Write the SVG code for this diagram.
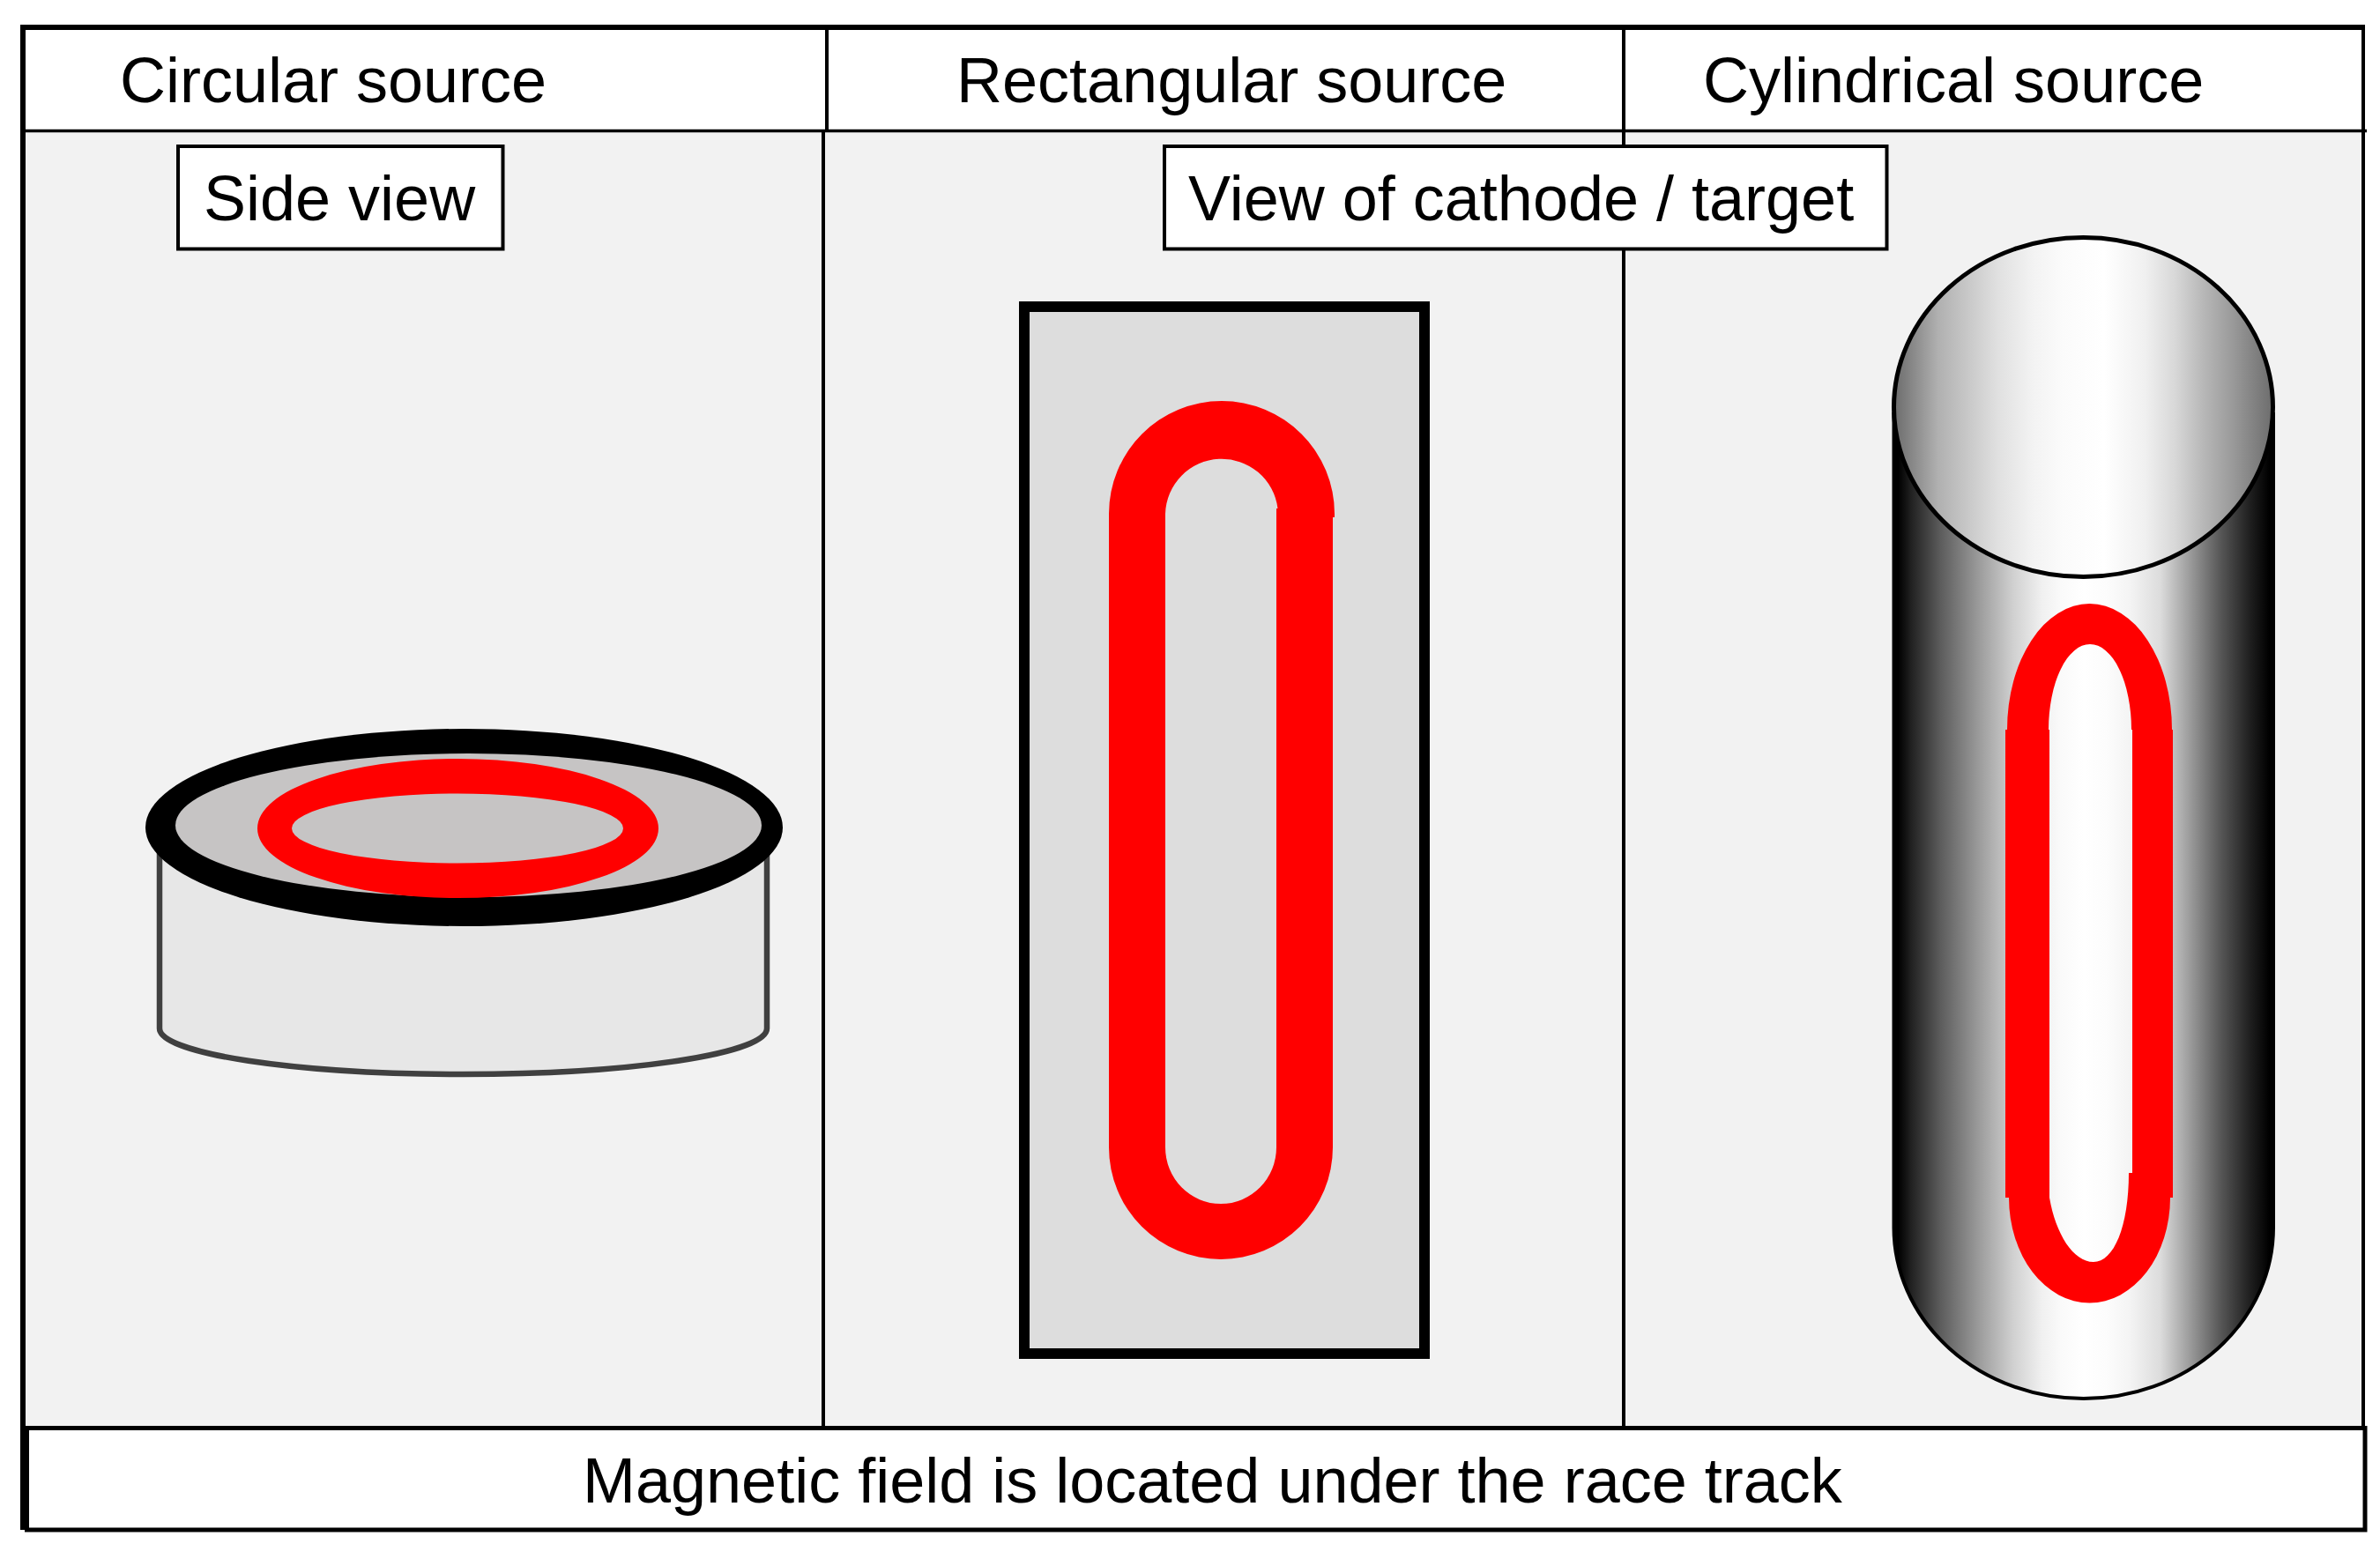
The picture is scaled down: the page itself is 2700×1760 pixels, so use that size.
<svg xmlns="http://www.w3.org/2000/svg" width="2700" height="1760" viewBox="0 0 2700 1760">
<defs>
<style>
text{font-family:"Liberation Sans",Arial,sans-serif;font-size:72px;fill:#000}
.lbl{fill:#fff;stroke:#000;stroke-width:4}
.ln{stroke:#000;fill:none}
.red{fill:#f00;fill-rule:evenodd}
</style>
<linearGradient id="gBody" x1="2147" x2="2581" y1="0" y2="0" gradientUnits="userSpaceOnUse">
<stop offset="0" stop-color="#000"/><stop offset=".015" stop-color="#000"/><stop offset=".05" stop-color="#222"/><stop offset=".125" stop-color="#5c5c5c"/><stop offset=".24" stop-color="#a4a4a4"/><stop offset=".315" stop-color="#d0d0d0"/><stop offset=".39" stop-color="#f0f0f0"/><stop offset=".44" stop-color="#fafafa"/><stop offset=".5" stop-color="#fff"/><stop offset=".56" stop-color="#fcfcfc"/><stop offset=".62" stop-color="#f4f4f4"/><stop offset=".7" stop-color="#dcdcdc"/><stop offset=".78" stop-color="#999"/><stop offset=".856" stop-color="#585858"/><stop offset=".93" stop-color="#222"/><stop offset=".985" stop-color="#000"/><stop offset="1" stop-color="#000"/>
</linearGradient>
<linearGradient id="gTop" x1="2152" x2="2575" y1="0" y2="0" gradientUnits="userSpaceOnUse">
<stop offset="0" stop-color="#707070"/><stop offset=".11" stop-color="#b0b0b0"/><stop offset=".19" stop-color="#c8c8c8"/><stop offset=".27" stop-color="#e0e0e0"/><stop offset=".366" stop-color="#f3f3f3"/><stop offset=".445" stop-color="#fbfbfb"/><stop offset=".555" stop-color="#fff"/><stop offset=".665" stop-color="#f0f0f0"/><stop offset=".745" stop-color="#d8d8d8"/><stop offset=".82" stop-color="#b8b8b8"/><stop offset=".9" stop-color="#9a9a9a"/><stop offset="1" stop-color="#707070"/>
</linearGradient>
</defs>
<rect width="2700" height="1760" fill="#fff"/>
<rect x="26" y="148" width="2656" height="1472" fill="#f2f2f2"/>
<g id="frame">
<path class="ln" stroke-width="6" d="M26 28V1736M23 31H2683"/>
<path class="ln" stroke-width="4" d="M2681 29V1620"/>
<path class="ln" stroke-width="3.500" d="M26 148.500H2685"/>
<path class="ln" stroke-width="4" d="M938 34V148M1842 34V148M934 148V1620M1842 148V1620"/>
</g>
<g id="circular-source">
<path d="M181 950V1167A344.500 52 0 0 0 870 1167V950Z" fill="#e7e7e7" stroke="#404040" stroke-width="6.500"/>
<ellipse cx="526.500" cy="939" rx="361.500" ry="112" fill="#000"/>
<ellipse cx="531.500" cy="936.500" rx="332.500" ry="81.500" fill="#c6c4c4"/>
<path class="red" d="M292 940A227.500 79 0 0 1 747 940A227.500 79 0 0 1 292 940ZM331 940A188 39.500 0 0 0 707 940A188 39.500 0 0 0 331 940Z"/>
</g>
<g id="rectangular-source">
<rect x="1162" y="348" width="454" height="1188" fill="#ddd" stroke="#000" stroke-width="12"/>
<path class="red" d="M1258 583A128 128 0 0 1 1514 583V587H1512V1302A127 127 0 0 1 1258 1302ZM1322 1302A63 64 0 0 0 1448 1302V577H1449.500A64 64 0 0 0 1322 583Z"/>
</g>
<g id="cylindrical-source">
<path d="M2148.500 470V1393A215.250 194 0 0 0 2579 1393V470Z" fill="url(#gBody)" stroke="#000" stroke-width="4"/>
<ellipse cx="2363.500" cy="462" rx="215" ry="192.500" fill="url(#gTop)" stroke="#000" stroke-width="5"/>
<path class="red" d="M2275 828H2277A93.500 143 0 0 1 2464 828H2465V1359H2462A91.500 119.500 0 0 1 2279 1359H2275ZM2325 828V1359C2332 1400 2352 1432 2375 1432C2398 1432 2415 1392 2415 1331H2419V828H2418A47 97 0 0 0 2324 828Z"/>
</g>
<g id="label-side-view"><rect class="lbl" x="202" y="166" width="368.500" height="116.500"/><text x="231" y="250">Side view</text></g>
<g id="label-target"><rect class="lbl" x="1321" y="166" width="819.500" height="116.500"/><text x="1348" y="250">View of cathode / target</text></g>
<g id="headers">
<text x="136" y="116">Circular source</text>
<text x="1085" y="116">Rectangular source</text>
<text x="1932" y="116">Cylindrical source</text>
</g>
<g id="caption">
<rect x="30.500" y="1620.500" width="2652.500" height="115.500" fill="#fff" stroke="#000" stroke-width="5"/>
<text x="661" y="1705">Magnetic field is located under the race track</text>
</g>
<g id="connectors"/>
</svg>
